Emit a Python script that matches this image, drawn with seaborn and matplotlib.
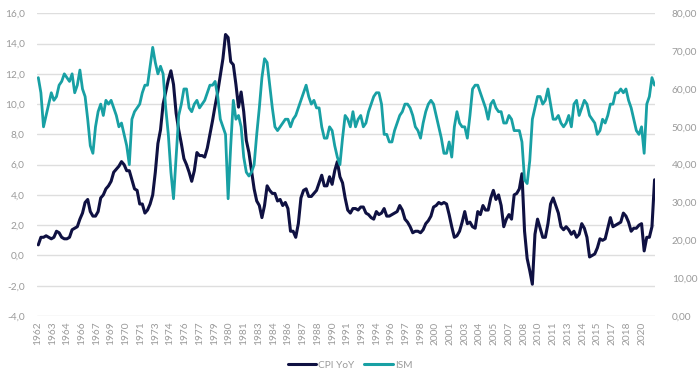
import matplotlib
matplotlib.use("Agg")
import matplotlib.pyplot as plt
from matplotlib.ticker import FixedLocator, FuncFormatter
from matplotlib.lines import Line2D
import seaborn as sns
import pandas as pd
import numpy as np

# Quarterly readings, Q1 1962 .. Q2 2021 (CPI YoY in %, ISM index)
cpi_1960s = [0.7, 1.2, 1.2, 1.3, 1.2, 1.1, 1.2, 1.6, 1.5, 1.2, 1.1, 1.1,
             1.2, 1.7, 1.8, 1.9, 2.4, 2.8, 3.5, 3.7, 2.9, 2.6, 2.6, 2.9,
             3.8, 4.0, 4.4, 4.6, 4.9, 5.5, 5.7, 5.9]
cpi_1970s = [6.2, 6.0, 5.6, 5.6, 5.0, 4.4, 4.3, 3.4, 3.4, 2.8, 3.0, 3.4,
             4.0, 5.5, 7.4, 8.3, 10.0, 10.8, 11.6, 12.2, 11.3, 9.4, 8.3, 7.4,
             6.4, 6.0, 5.5, 4.9, 5.6, 6.8, 6.6, 6.6, 6.5, 7.1, 8.0, 8.9,
             9.9, 10.8, 11.9, 13.0]
cpi_1980s = [14.6, 14.4, 12.8, 12.6, 11.3, 9.8, 10.8, 9.5, 7.6, 6.8, 5.6, 4.4,
             3.6, 3.3, 2.5, 3.3, 4.6, 4.3, 4.1, 4.1, 3.6, 3.7, 3.3, 3.5,
             3.1, 1.6, 1.6, 1.2, 2.1, 3.8, 4.3, 4.4, 3.9, 3.9, 4.1, 4.3,
             4.8, 5.3, 4.6, 4.6]
cpi_1990s = [5.2, 4.7, 5.6, 6.2, 5.2, 4.8, 3.8, 3.0, 2.8, 3.1, 3.1, 3.0,
             3.2, 3.2, 2.8, 2.7, 2.5, 2.4, 2.9, 2.7, 2.8, 3.1, 2.6, 2.6,
             2.7, 2.8, 2.9, 3.3, 3.0, 2.4, 2.2, 1.9, 1.5, 1.6, 1.6, 1.5,
             1.7, 2.1, 2.3, 2.6]
cpi_2000s = [3.2, 3.3, 3.5, 3.4, 3.5, 3.4, 2.7, 1.9, 1.2, 1.3, 1.6, 2.2,
             2.9, 2.1, 2.2, 1.9, 1.8, 2.9, 2.7, 3.3, 3.0, 3.0, 3.8, 4.3,
             3.7, 4.0, 3.3, 1.9, 2.4, 2.7, 2.4, 4.0, 4.1, 4.4, 5.4, 1.6,
             -0.2, -1.0, -1.9, 1.4]
cpi_2010s = [2.4, 1.8, 1.2, 1.2, 2.1, 3.4, 3.8, 3.3, 2.8, 1.9, 1.7, 1.9,
             1.7, 1.4, 1.6, 1.2, 1.4, 2.1, 1.8, 1.2, -0.1, 0.0, 0.1, 0.5,
             1.1, 1.0, 1.1, 1.8, 2.5, 1.9, 2.0, 2.1, 2.2, 2.8, 2.6, 2.2,
             1.6, 1.8, 1.8, 2.0]
cpi_2020s = [2.1, 0.3, 1.2, 1.2, 1.9, 5.0]

ism_1960s = [63, 59, 50, 53, 56, 59, 57, 58, 61, 62, 64, 63,
             62, 64, 59, 61, 65, 60, 58, 52, 45, 43, 50, 54,
             56, 53, 57, 56, 57, 55, 53, 50]
ism_1970s = [51, 48, 45, 40, 52, 54, 55, 56, 59, 61, 61, 66,
             71, 67, 64, 66, 64, 55, 48, 38, 31, 42, 53, 56,
             60, 60, 55, 54, 56, 57, 55, 56, 57, 59, 61, 61,
             62, 58, 52, 50]
ism_1980s = [48, 31, 45, 57, 52, 53, 50, 42, 38, 37, 38, 40,
             48, 55, 63, 68, 67, 61, 55, 50, 49, 50, 51, 52,
             52, 50, 52, 53, 55, 57, 59, 61, 58, 56, 57, 55,
             55, 50, 47, 47]
ism_1990s = [50, 49, 45, 42, 40, 47, 53, 52, 50, 54, 50, 52,
             53, 50, 51, 54, 56, 58, 59, 59, 56, 48, 48, 46,
             46, 49, 51, 53, 54, 56, 56, 55, 53, 50, 49, 47,
             51, 54, 56, 57]
ism_2000s = [56, 53, 50, 47, 43, 43, 46, 42, 50, 54, 51, 50,
             50, 47, 53, 60, 61, 61, 59, 57, 55, 52, 56, 57,
             55, 54, 54, 51, 51, 53, 52, 49, 49, 49, 46, 36,
             35, 41, 52, 55]
ism_2010s = [58, 58, 56, 57, 60, 56, 52, 52, 53, 51, 50, 51,
             53, 50, 56, 57, 53, 55, 57, 56, 53, 52, 51, 48,
             49, 52, 51, 53, 56, 56, 59, 59, 60, 59, 60, 57,
             55, 52, 49, 48]
ism_2020s = [50, 43, 56, 58, 63, 61]

first_year = 1962
label_step_months = 17

cpi = cpi_1960s + cpi_1970s + cpi_1980s + cpi_1990s + cpi_2000s + cpi_2010s + cpi_2020s
ism = ism_1960s + ism_1970s + ism_1980s + ism_1990s + ism_2000s + ism_2010s + ism_2020s
n = len(cpi)
month_pos = np.arange(n) * 3 + 1  # middle month of each quarter
df = pd.DataFrame({"month": month_pos, "CPI YoY": cpi, "ISM": ism})

navy = "#0f1142"
teal = "#18a0a4"
grey_txt = "#9a9a9a"
grid_c = "#dedede"

sns.set_theme(style="white")
plt.rcParams["font.family"] = ["Lato", "DejaVu Sans"]

fig = plt.figure(figsize=(7.0, 3.82), dpi=100)
ax = fig.add_axes([37/700, 1-316/382, (655-37)/700, (316-13.3)/382])
ax2 = ax.twinx()

sns.lineplot(data=df, x="month", y="CPI YoY", ax=ax, color=navy, linewidth=2.2, legend=False)
sns.lineplot(data=df, x="month", y="ISM", ax=ax2, color=teal, linewidth=2.0, legend=False)

total_months = month_pos[-1]
ax.set_xlim(-0.5, total_months + 0.5)
ax.set_ylim(-4, 16)
ax2.set_ylim(0, 80)
ax.set_yticks(np.arange(-4, 16.1, 2))
ax2.set_yticks(np.arange(0, 80.1, 10))
ax.yaxis.set_major_formatter(FuncFormatter(lambda v, p: f"{v:.1f}".replace(".", ",")))
ax2.yaxis.set_major_formatter(FuncFormatter(lambda v, p: f"{v:.2f}".replace(".", ",")))

ticks = np.arange(0, total_months, label_step_months)
ax.xaxis.set_major_locator(FixedLocator(ticks))
ax.set_xticklabels([str(first_year + int(t // 12)) for t in ticks], rotation=90)

ax.grid(axis="y", color=grid_c, linewidth=1.0)
ax.set_axisbelow(True)
ax2.grid(False)
for a in (ax, ax2):
    for s in a.spines.values():
        s.set_visible(False)
    a.set_xlabel("")
    a.set_ylabel("")
ax.tick_params(axis="y", length=0, pad=9, labelsize=7.3, labelcolor=grey_txt)
ax2.tick_params(axis="y", length=0, pad=12, labelsize=7.3, labelcolor=grey_txt)
ax.tick_params(axis="x", length=0, pad=4, labelsize=7.3, labelcolor=grey_txt)
ax2.set_zorder(ax.get_zorder() + 1)
ax2.patch.set_visible(False)

handles = [Line2D([], [], color=navy, linewidth=2.2), Line2D([], [], color=teal, linewidth=2.2)]
fig.legend(handles, ["CPI YoY", "ISM"], loc="center", bbox_to_anchor=(350/700, 1-365/382),
           ncol=2, frameon=False, fontsize=7.3, labelcolor=grey_txt, handlelength=2.8,
           handletextpad=0.2, columnspacing=1.0)

fig.savefig("out.png", dpi=100)
